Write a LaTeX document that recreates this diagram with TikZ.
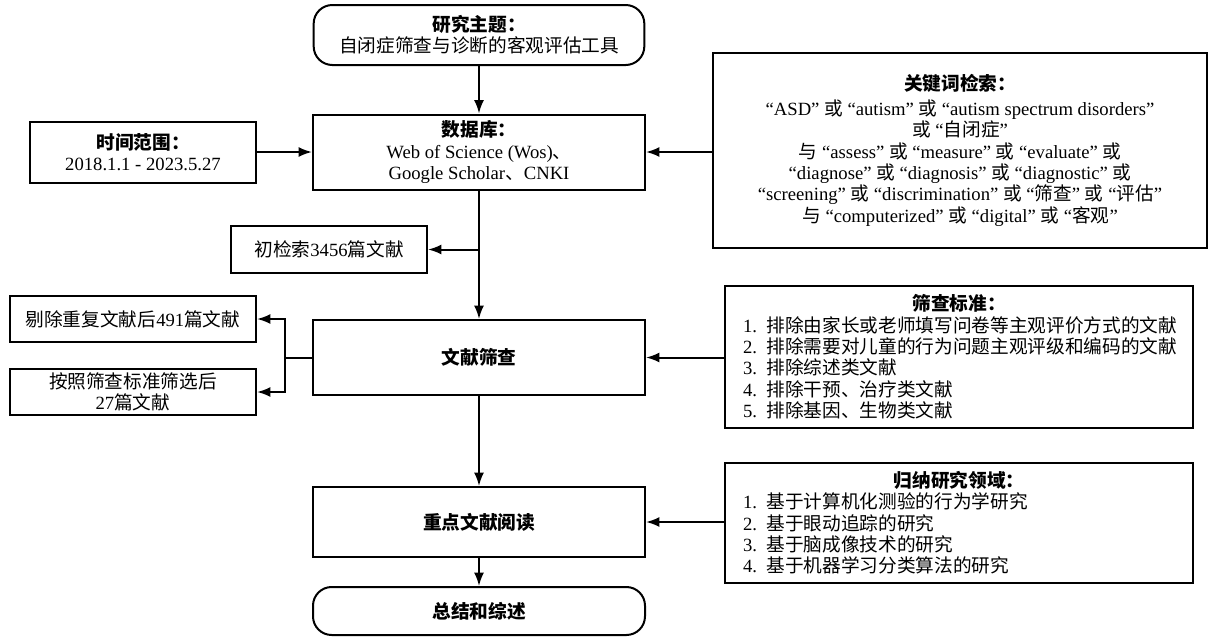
\documentclass[tikz,border=0pt]{standalone}
\usepackage{fontspec}
\setmainfont{Liberation Serif}
\newfontfamily\zh{Noto Sans CJK SC}
\usetikzlibrary{arrows.meta}
\newcommand\zw[1]{{\zh #1}}
\newcommand\hd[1]{{\zh\bfseries #1}}
\newcommand\huo{\zw{或}}
\newcommand\yu{\zw{与}}
\newcommand\ctrline[1]{\hskip 0pt plus 1fill #1\hskip 0pt plus 1fill\null}
\tikzset{
  box/.style={draw, line width=1.5pt, inner sep=0pt, align=center},
  term/.style={box, rounded corners=14pt},
  listbox/.style={draw, line width=1.5pt, inner xsep=13.5pt, inner ysep=0pt, text width=324pt, align=left},
  conn/.style={line width=1.5pt, -{Latex[length=10pt,width=7.5pt]}},
}
\begin{document}
\begin{tikzpicture}[x=0.75pt, y=-0.75pt, font=\fontsize{14}{16}\selectfont]
\useasboundingbox (0,0) rectangle (1208,637);

% main column
\node[term, minimum width=248pt, minimum height=45pt] (topic) at (479,35)
  {\hd{研究主题：}\\\zw{自闭症筛查与诊断的客观评估工具}};
\node[box, minimum width=249pt, minimum height=56.25pt] (db) at (479,152)
  {\hd{数据库：}\\Web of Science (Wos)\zw{、}\\Google Scholar\zw{、}CNKI};
\node[box, minimum width=249pt, minimum height=56.25pt] (screen) at (479,357.5) {\hd{文献筛查}};
\node[box, minimum width=249pt, minimum height=52.5pt] (read) at (479,522) {\hd{重点文献阅读}};
\node[term, minimum width=249pt, minimum height=36pt] (sum) at (479,611) {\hd{总结和综述}};

% left side
\node[box, minimum width=169.5pt, minimum height=45.75pt] (time) at (143,152)
  {\hd{时间范围：}\\2018.1.1 - 2023.5.27};
\node[box, minimum width=147pt, minimum height=35.25pt] (init) at (329,249.5)
  {\zw{初检索}3456\zw{篇文献}};
\node[box, minimum width=184.5pt, minimum height=34.5pt] (dup) at (133,319)
  {\zw{剔除重复文献后}491\zw{篇文献}};
\node[box, minimum width=184.5pt, minimum height=34.5pt] (sel) at (133,392)
  {\zw{按照筛查标准筛选后}\\27\zw{篇文献}};
\coordinate (fork) at (285,357.5);

% right side
\node[box, minimum width=370.5pt, minimum height=146.25pt] (kw) at (960,150)
  {\hd{关键词检索：}\\[3pt]
   “ASD” \huo{} “autism” \huo{} “autism spectrum disorders”\\
   \huo{} “\zw{自闭症}”\\
   \yu{} “assess” \huo{} “measure” \huo{} “evaluate” \huo\\
   “diagnose” \huo{} “diagnosis” \huo{} “diagnostic” \huo\\
   “screening” \huo{} “discrimination” \huo{} “\zw{筛查}” \huo{} “\zw{评估}”\\
   \yu{} “computerized” \huo{} “digital” \huo{} “\zw{客观}”};
\node[listbox, minimum height=106.5pt] (crit) at (959,357)
  {\ctrline{\hd{筛查标准：}}\\
   1. \zw{排除由家长或老师填写问卷等主观评价方式的文献}\\
   2. \zw{排除需要对儿童的行为问题主观评级和编码的文献}\\
   3. \zw{排除综述类文献}\\
   4. \zw{排除干预、治疗类文献}\\
   5. \zw{排除基因、生物类文献}};
\node[listbox, minimum height=90pt] (fields) at (959,523)
  {\ctrline{\hd{归纳研究领域：}}\\
   1. \zw{基于计算机化测验的行为学研究}\\
   2. \zw{基于眼动追踪的研究}\\
   3. \zw{基于脑成像技术的研究}\\
   4. \zw{基于机器学习分类算法的研究}};

% connectors
\draw[conn] (topic) -- (db);
\draw[conn] (time) -- (db);
\draw[conn] (kw.west |- db.east) -- (db.east);
\draw[conn] (db) -- (screen);
\draw[conn] (db.south |- init.east) -- (init.east);
\draw[line width=1.5pt] (screen.west) -- (fork);
\draw[conn] (fork) |- (dup.east);
\draw[conn] (fork) |- (sel.east);
\draw[conn] (crit.west |- screen.east) -- (screen.east);
\draw[conn] (screen) -- (read);
\draw[conn] (fields.west |- read.east) -- (read.east);
\draw[conn] (read) -- (sum);
\end{tikzpicture}
\end{document}
